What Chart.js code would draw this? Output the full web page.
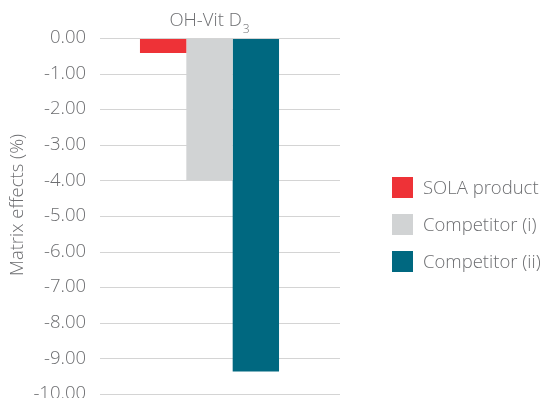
<!DOCTYPE html>
<html>
<head>
<meta charset="utf-8">
<style>
  html, body { margin: 0; padding: 0; background: #ffffff; }
  #wrap { width: 540px; height: 398px; position: relative; }
</style>
</head>
<body>
<div id="wrap"><canvas id="chart" width="540" height="398"></canvas></div>
<script src="https://cdn.jsdelivr.net/npm/chart.js@4/dist/chart.umd.min.js"></script>
<script>
// Analyte shown above the bars (main text + subscript)
const categories = ['OH-Vit D'];
const categorySubscript = '3';

// Matrix effects (%) per product
const seriesNames = ['SOLA product', 'Competitor (i)', 'Competitor (ii)'];
const sola = [-0.42];
const competitorI = [-4.00];
const competitorII = [-9.37];

// Value axis
const yMin = -10;
const yMax = 0;
const yStep = 1;
const yTitle = 'Matrix effects (%)';

const colors = ['#ee3237', '#d1d3d4', '#006880'];
const textColor = '#6d6e71';
const gridColor = '#d4d4d4';
const fontFamily = '"Open Sans", "Liberation Sans", Arial, sans-serif';
const fontWeight = '300';
const textSize = 18.5;
const f = size => fontWeight + ' ' + size + 'px ' + fontFamily;

// Grid lines run a little past the plot, out to this x
const gridRight = 340;

function drawGridLine(ctx, chart, value) {
  const area = chart.chartArea;
  const py = Math.round(chart.scales.y.getPixelForValue(value)) + 0.5;
  ctx.beginPath();
  ctx.moveTo(area.left, py);
  ctx.lineTo(gridRight, py);
  ctx.stroke();
}

// Extra decorations: grid lines, analyte label, rotated axis title, legend
const decorations = {
  id: 'decorations',
  beforeDatasetsDraw(chart) {
    const ctx = chart.ctx;
    ctx.save();
    ctx.strokeStyle = gridColor;
    ctx.lineWidth = 1;
    chart.scales.y.ticks.forEach(t => drawGridLine(ctx, chart, t.value));
    ctx.restore();
  },
  afterDatasetsDraw(chart) {
    const ctx = chart.ctx;
    const area = chart.chartArea;

    ctx.save();
    // zero line sits on top of the bars
    ctx.strokeStyle = gridColor;
    ctx.lineWidth = 1;
    drawGridLine(ctx, chart, 0);

    // analyte label above the bars
    ctx.fillStyle = textColor;
    ctx.textBaseline = 'alphabetic';
    const main = categories[0];
    ctx.font = f(textSize);
    const wMain = ctx.measureText(main).width;
    ctx.font = f(12);
    const wSub = ctx.measureText(categorySubscript).width;
    const cx = (area.left + area.right) / 2;
    const x0 = cx - (wMain + wSub + 1) / 2;
    ctx.textAlign = 'left';
    ctx.font = f(textSize);
    ctx.fillText(main, x0, 26);
    ctx.font = f(12);
    ctx.fillText(categorySubscript, x0 + wMain + 1, 33);

    // rotated value-axis title
    ctx.save();
    ctx.translate(18, 205);
    ctx.rotate(-Math.PI / 2);
    ctx.textAlign = 'center';
    ctx.textBaseline = 'middle';
    ctx.font = f(textSize);
    ctx.fillText(yTitle, 0, 0);
    ctx.restore();

    // legend
    const legendX = 392;
    const rowCenters = [187.5, 224.5, 261.5];
    ctx.font = f(textSize);
    ctx.textAlign = 'left';
    ctx.textBaseline = 'middle';
    chart.data.datasets.forEach((ds, i) => {
      ctx.fillStyle = ds.backgroundColor;
      ctx.fillRect(legendX, rowCenters[i] - 10.5, 21, 21);
      ctx.fillStyle = textColor;
      ctx.fillText(ds.label, legendX + 31, rowCenters[i] + 1);
    });
    ctx.restore();
  }
};

const values = [sola, competitorI, competitorII];

new Chart(document.getElementById('chart'), {
  type: 'bar',
  data: {
    labels: categories,
    datasets: seriesNames.map((name, i) => ({
      label: name,
      data: values[i],
      backgroundColor: colors[i],
      borderWidth: 0,
      categoryPercentage: 0.635,
      barPercentage: 1
    }))
  },
  options: {
    responsive: false,
    animation: false,
    devicePixelRatio: 1,
    layout: { padding: { top: 38, right: 221, bottom: 4, left: 0 } },
    plugins: {
      legend: { display: false },
      title: { display: false },
      tooltip: { enabled: false }
    },
    scales: {
      x: { display: false },
      y: {
        min: yMin,
        max: yMax,
        ticks: {
          stepSize: yStep,
          padding: 14,
          color: textColor,
          font: { family: fontFamily, size: textSize, weight: fontWeight },
          callback: v => v.toFixed(2)
        },
        grid: { display: false, drawTicks: false },
        border: { display: false },
        afterFit(scale) {
          scale.width = 100;
          scale.paddingTop = 0;
          scale.paddingBottom = 0;
        }
      }
    }
  },
  plugins: [decorations]
});
</script>
</body>
</html>
